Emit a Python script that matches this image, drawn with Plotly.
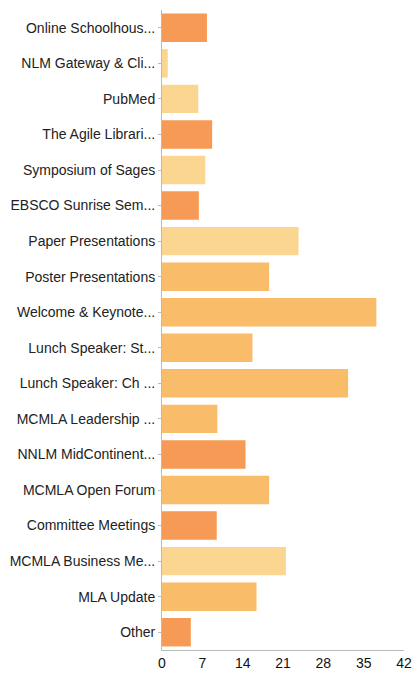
import plotly.graph_objects as go

categories = [
    "Online Schoolhous...",
    "NLM Gateway & Cli...",
    "PubMed",
    "The Agile Librari...",
    "Symposium of Sages",
    "EBSCO Sunrise Sem...",
    "Paper Presentations",
    "Poster Presentations",
    "Welcome & Keynote...",
    "Lunch Speaker: St...",
    "Lunch Speaker: Ch ...",
    "MCMLA Leadership ...",
    "NNLM MidContinent...",
    "MCMLA Open Forum",
    "Committee Meetings",
    "MCMLA Business Me...",
    "MLA Update",
    "Other",
]
values = [7.8, 1, 6.3, 8.7, 7.5, 6.4, 23.7, 18.6, 37.2, 15.7, 32.3, 9.6, 14.5, 18.6, 9.5, 21.5, 16.4, 5]
color_groups = ["dark", "light", "light", "dark", "light", "dark", "light", "mid", "mid",
                "mid", "mid", "mid", "dark", "mid", "dark", "light", "mid", "dark"]
palette = {"dark": "#F79A55", "mid": "#F9BC68", "light": "#FAD690"}
tick_vals = [0, 7, 14, 21, 28, 35, 42]

fig = go.Figure(go.Bar(
    x=values,
    y=categories,
    orientation="h",
    marker=dict(color=[palette[g] for g in color_groups], line=dict(width=0)),
))

fig.update_layout(
    width=412, height=665,
    margin=dict(l=154, r=16, t=2, b=23, autoexpand=False),
    paper_bgcolor="white", plot_bgcolor="white",
    bargap=0.2,
    showlegend=False,
    font=dict(family="Liberation Sans, Arial, sans-serif", color="#222", size=14),
)
fig.update_xaxes(
    range=[0, 42], tickvals=tick_vals, showgrid=False, zeroline=False, automargin=False,
    showline=True, linecolor="#bbb", linewidth=1, ticks="",
    tickfont=dict(size=14, color="#111"),
)
fig.update_yaxes(
    autorange="reversed", showgrid=False, zeroline=False, automargin=False,
    showline=True, linecolor="#bbb", linewidth=1, ticks="outside", ticklen=3, tickcolor="#bbb",
    tickfont=dict(size=14, color="#222"),
)

fig.write_html("out.html")
